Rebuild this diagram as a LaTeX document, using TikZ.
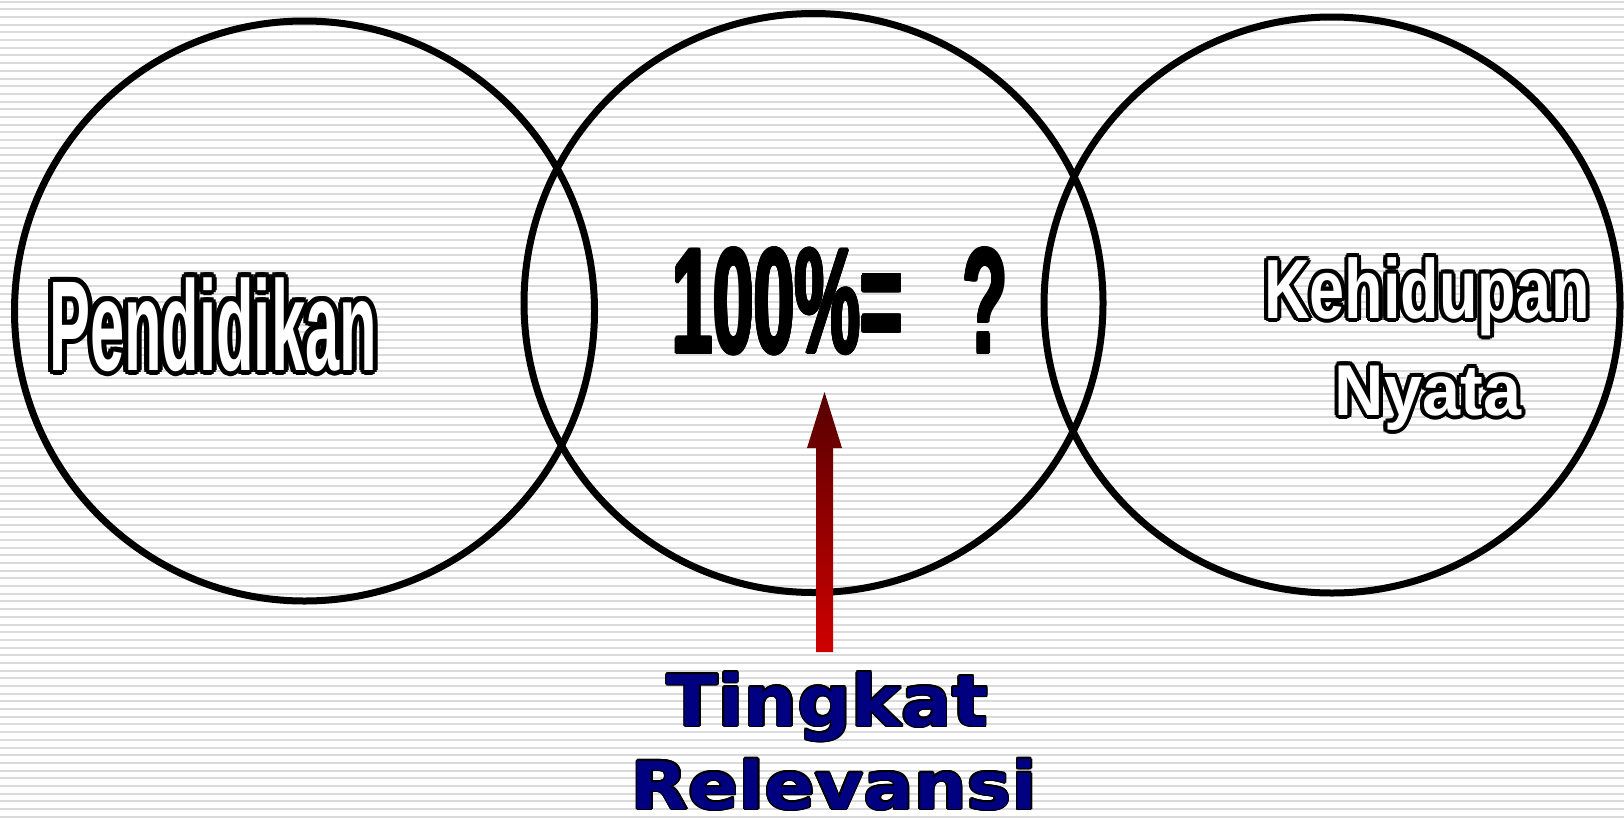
\documentclass[tikz,border=0pt]{standalone}
\usepackage{fontspec}
\usepackage{graphicx}
\setmainfont{Liberation Sans}
\newfontfamily\dejavufont{DejaVu Sans}
\usetikzlibrary{calc}
\definecolor{stripegray}{HTML}{DADADA}
\definecolor{navytext}{HTML}{000080}
\definecolor{arrowtop}{HTML}{550000}
\definecolor{arrowbot}{HTML}{D00000}
\newcommand\ringtext[3]{%
  \leavevmode
  \foreach \ang in {0,30,...,330}{%
    \pgfmathsetlengthmacro\rtdx{#1*cos(\ang)}%
    \pgfmathsetlengthmacro\rtdy{#1*sin(\ang)}%
    \rlap{\kern\rtdx\raisebox{\rtdy}{\color{black}#3}}}%
  {\color{#2}#3}}
\tikzset{
  stripe/.style={draw=stripegray, line width=2pt},
  ring/.style={circle, draw=black, line width=7pt, inner sep=0pt},
  label/.style={inner sep=0pt, outer sep=0pt, anchor=base},
}
\begin{document}
\begin{tikzpicture}[x=1pt,y=-1pt]
\useasboundingbox (0,0) rectangle (1624,817);
\fill[white] (0,0) rectangle (1624,817);
\foreach \i in {0,...,106}{
  \draw[stripe] (0,{1.6+7.69*\i}) -- (1624,{1.6+7.69*\i});
}
% circles
\node[ring, minimum size=580pt] (edu) at (304.5,311) {};
\node[ring, minimum size=579pt] (mid) at (813.5,303) {};
\node[ring, minimum size=576pt] (life) at (1332,305) {};
% texts
\node[label] (pend) at (213,370) {\bfseries\fontsize{128}{128}\selectfont\ringtext{5}{white}{\scalebox{0.48}[1]{Pendidikan}}};
\node[label] (pct) at (840,353) {\bfseries\fontsize{150}{150}\selectfont\ringtext{1.5}{black}{\scalebox{0.49}[1]{100\%=\hspace{121pt}?}}};
\node[label] (keh) at (1427,318) {\bfseries\fontsize{84}{84}\selectfont\ringtext{4}{white}{\scalebox{0.75}[1]{Kehidupan}}};
\node[label] (nyata) at (1428,415) {\bfseries\fontsize{72}{72}\selectfont\ringtext{4}{white}{\scalebox{0.95}[1]{Nyata}}};
\node[label] (tingkat) at (827.5,726) {\dejavufont\bfseries\fontsize{71}{71}\selectfont\ringtext{1.5}{navytext}{\scalebox{1.06}[1]{Tingkat}}};
\node[label] (relev) at (834,809) {\dejavufont\bfseries\fontsize{66}{66}\selectfont\ringtext{1.5}{navytext}{\scalebox{1.13}[1]{Relevansi}}};
% arrow
\coordinate (tail) at (824.5,652);
\coordinate (tip) at (824.5,392);
\shade[top color=arrowtop, bottom color=arrowbot]
  ($(tail)+(-8.5,0)$) -- ($(tail)+(8.5,0)$) -- ($(tip)+(8.5,56)$) -- ($(tip)+(17.5,56)$)
  -- (tip) -- ($(tip)+(-17.5,56)$) -- ($(tip)+(-8.5,56)$) -- cycle;
\end{tikzpicture}
\end{document}
